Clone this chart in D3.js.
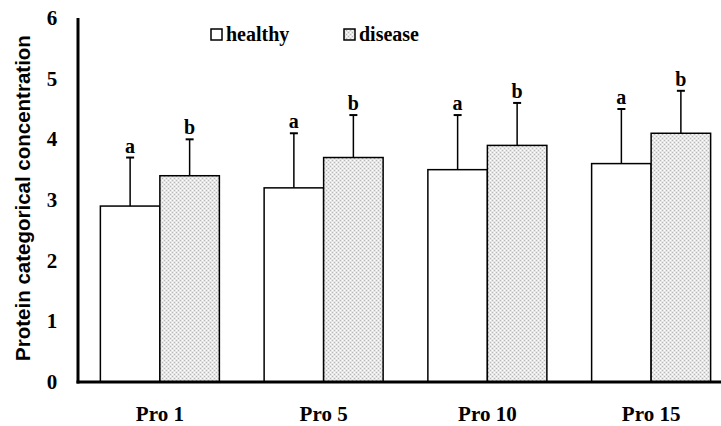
<!DOCTYPE html>
<html>
<head>
<meta charset="utf-8">
<script src="https://cdn.jsdelivr.net/npm/d3@7"></script>
<style>
  body { margin: 0; background: #fff; }
  text { fill: #000; }
</style>
</head>
<body>
<script>
// chart values
let categories = ["Pro 1", "Pro 5", "Pro 10", "Pro 15"];
let seriesNames = ["healthy", "disease"];
let healthy = [2.9, 3.2, 3.5, 3.6];
let disease = [3.4, 3.7, 3.9, 4.1];
let healthyErr = [0.8, 0.9, 0.9, 0.9];
let diseaseErr = [0.6, 0.7, 0.7, 0.7];
let healthyLetters = ["a", "a", "a", "a"];
let diseaseLetters = ["b", "b", "b", "b"];
let yTicks = [0, 1, 2, 3, 4, 5, 6];

let width = 721, height = 426;
let margin = {top: 18, right: 0, bottom: 44, left: 78};
let serif = "'Liberation Serif', 'Times New Roman', serif";

let svg = d3.select("body").append("svg")
  .attr("width", width)
  .attr("height", height);

// dotted grey fill for the disease bars
let defs = svg.append("defs");
let pat = defs.append("pattern")
  .attr("id", "dots")
  .attr("width", 4).attr("height", 4)
  .attr("patternUnits", "userSpaceOnUse");
pat.append("rect").attr("width", 4).attr("height", 4).attr("fill", "#e6e6e6");
pat.append("rect").attr("x", 0).attr("y", 0).attr("width", 1).attr("height", 1).attr("fill", "#b8b8b8");
pat.append("rect").attr("x", 2).attr("y", 2).attr("width", 1).attr("height", 1).attr("fill", "#b8b8b8");
pat.append("rect").attr("x", 2).attr("y", 0).attr("width", 1).attr("height", 1).attr("fill", "#fff");
pat.append("rect").attr("x", 0).attr("y", 2).attr("width", 1).attr("height", 1).attr("fill", "#fff");

let y = d3.scaleLinear()
  .domain([0, 6])
  .range([height - margin.bottom, margin.top]);

let x0 = d3.scaleBand()
  .domain(categories)
  .range([margin.left, 733])
  .padding(0);

let x1 = d3.scaleBand()
  .domain(seriesNames)
  .range([0, x0.bandwidth()])
  .paddingInner(0)
  .paddingOuter(0.376);

let rows = categories.map(function(c, i) {
  return [
    {cat: c, s: "healthy", v: healthy[i], e: healthyErr[i], l: healthyLetters[i]},
    {cat: c, s: "disease", v: disease[i], e: diseaseErr[i], l: diseaseLetters[i]}
  ];
});
let flat = rows.flat();

let bars = svg.append("g");
let bw = x1.bandwidth();

// error bars (upward only) and significance letters
flat.forEach(function(d) {
  let cx = x0(d.cat) + x1(d.s) + bw / 2;
  bars.append("line")
    .attr("x1", cx).attr("x2", cx)
    .attr("y1", y(d.v)).attr("y2", y(d.v + d.e))
    .attr("stroke", "#000").attr("stroke-width", 1.5);
  bars.append("line")
    .attr("x1", cx - 4).attr("x2", cx + 4)
    .attr("y1", y(d.v + d.e)).attr("y2", y(d.v + d.e))
    .attr("stroke", "#000").attr("stroke-width", 2);
  bars.append("text")
    .attr("x", cx)
    .attr("y", y(d.v + d.e) - 5)
    .attr("text-anchor", "middle")
    .style("font-family", serif)
    .style("font-weight", "bold")
    .style("font-size", "20px")
    .text(d.l);
});

bars.selectAll("rect.bar")
  .data(flat)
  .enter().append("rect")
  .attr("class", "bar")
  .attr("x", function(d) { return x0(d.cat) + x1(d.s); })
  .attr("y", function(d) { return y(d.v); })
  .attr("width", bw)
  .attr("height", function(d) { return y(0) - y(d.v); })
  .attr("fill", function(d) { return d.s === "healthy" ? "#fff" : "url(#dots)"; })
  .attr("stroke", "#000")
  .attr("stroke-width", 1.5);

// axes
svg.append("line")
  .attr("x1", margin.left).attr("x2", margin.left)
  .attr("y1", y(6)).attr("y2", y(0) + 1.5)
  .attr("stroke", "#000").attr("stroke-width", 3);
svg.append("line")
  .attr("x1", margin.left - 1.5).attr("x2", width)
  .attr("y1", y(0)).attr("y2", y(0))
  .attr("stroke", "#000").attr("stroke-width", 3);

svg.append("g").selectAll("text")
  .data(yTicks)
  .enter().append("text")
  .attr("x", 52)
  .attr("y", function(d) { return y(d) + 7; })
  .attr("text-anchor", "middle")
  .style("font-family", serif)
  .style("font-weight", "bold")
  .style("font-size", "21px")
  .text(function(d) { return d; });

svg.append("g").selectAll("text")
  .data(categories)
  .enter().append("text")
  .attr("x", function(d) { return x0(d) + x0.bandwidth() / 2; })
  .attr("y", 421)
  .attr("text-anchor", "middle")
  .style("font-family", serif)
  .style("font-weight", "bold")
  .style("font-size", "21px")
  .text(function(d) { return d; });

svg.append("text")
  .attr("transform", "translate(30," + 198 + ") rotate(-90)")
  .attr("text-anchor", "middle")
  .style("font-family", "'Liberation Sans', Arial, sans-serif")
  .style("font-weight", "bold")
  .style("font-size", "20.5px")
  .text("Protein categorical concentration");

// legend
let legendX = [211, 344];
seriesNames.forEach(function(s, i) {
  svg.append("rect")
    .attr("x", legendX[i]).attr("y", 29)
    .attr("width", 11).attr("height", 11)
    .attr("fill", s === "healthy" ? "#fff" : "url(#dots)")
    .attr("stroke", "#000").attr("stroke-width", 1.5);
  svg.append("text")
    .attr("x", legendX[i] + 15).attr("y", 41)
    .style("font-family", serif)
    .style("font-weight", "bold")
    .style("font-size", "20px")
    .text(s);
});
</script>
</body>
</html>
